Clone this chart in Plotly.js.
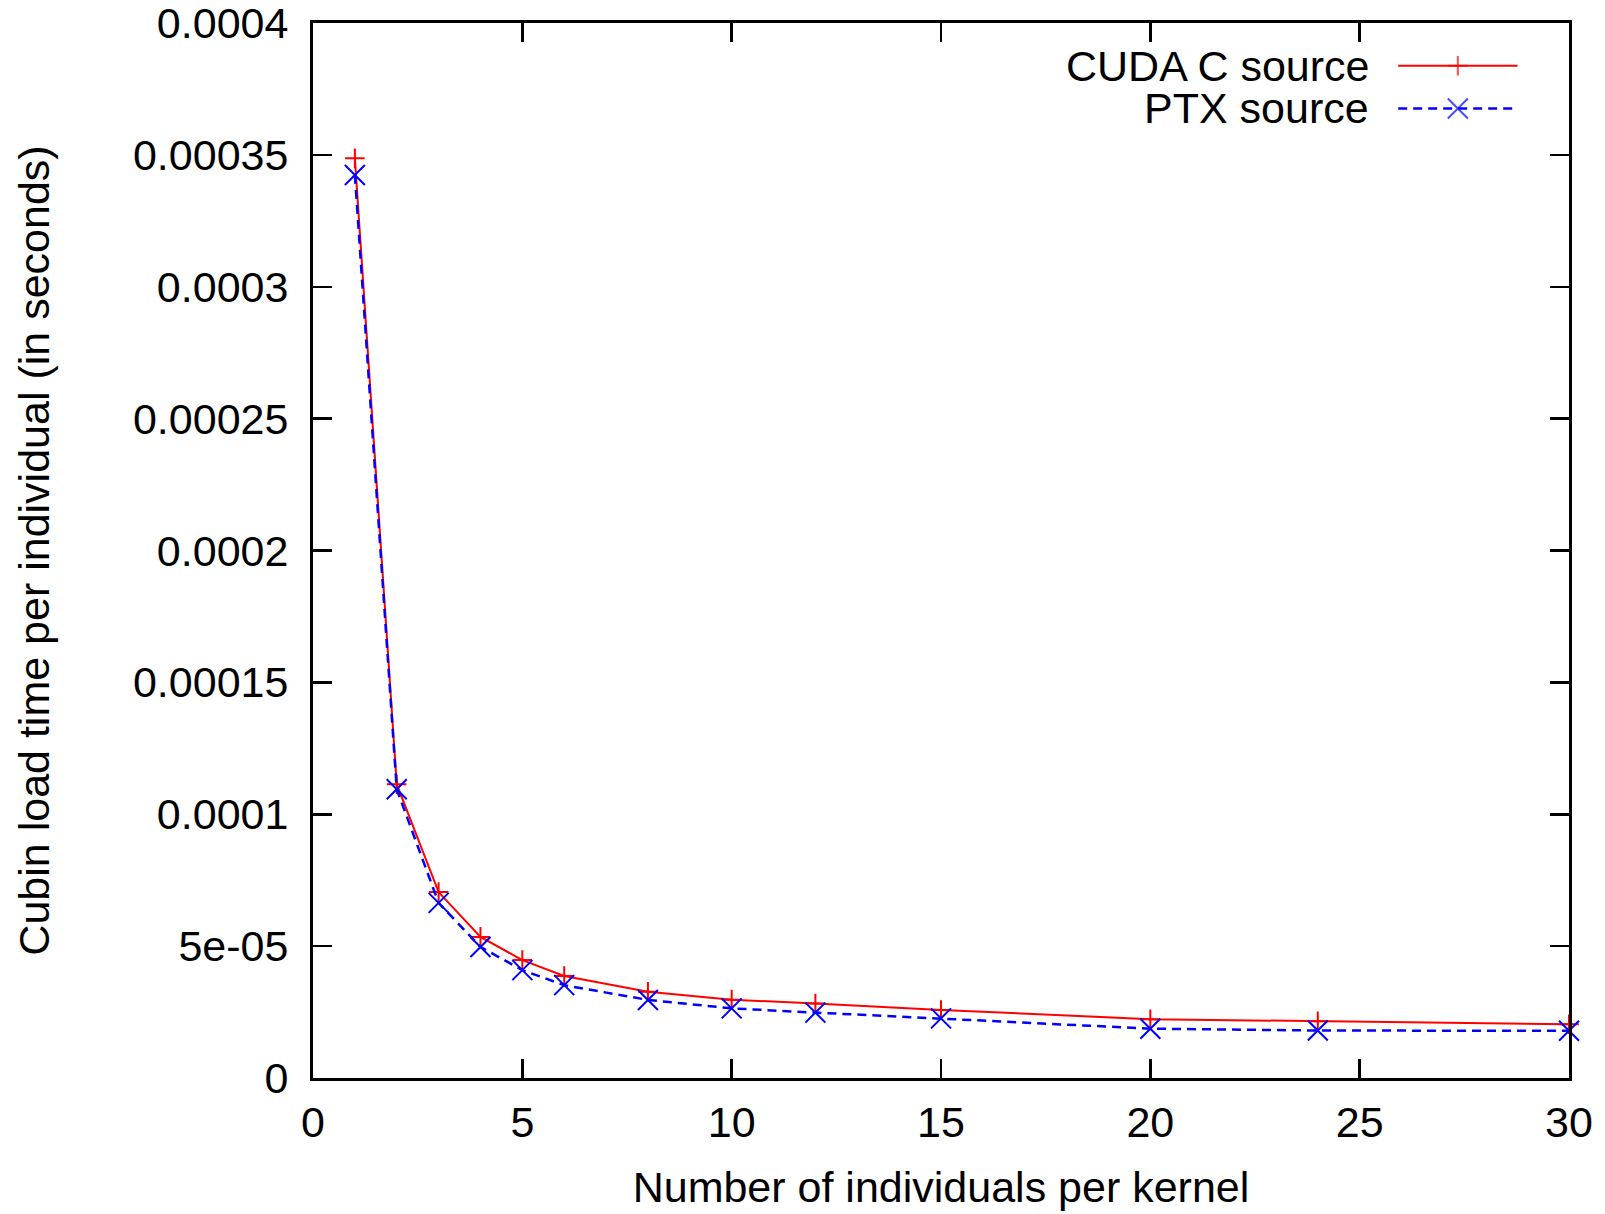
<!DOCTYPE html>
<html>
<head>
<meta charset="utf-8">
<script src="https://cdn.plot.ly/plotly-3.0.1.min.js"></script>
<style>html,body{margin:0;padding:0;background:#fff}#chart{width:1605px;height:1214px}</style>
</head>
<body>
<div id="chart"></div>
<script>
const individuals = [1, 2, 3, 4, 5, 6, 8, 10, 12, 15, 20, 24, 30];
const cudaC = [3.487e-4, 1.114e-4, 7.05e-5, 5.35e-5, 4.47e-5, 3.87e-5, 3.27e-5, 2.97e-5, 2.82e-5, 2.58e-5, 2.23e-5, 2.15e-5, 2.04e-5];
const ptx   = [3.424e-4, 1.095e-4, 6.64e-5, 4.97e-5, 4.09e-5, 3.52e-5, 2.96e-5, 2.64e-5, 2.48e-5, 2.26e-5, 1.87e-5, 1.80e-5, 1.79e-5];
const seriesNames = ["CUDA C source", "PTX source"];
const xTickVals = [0, 5, 10, 15, 20, 25, 30];
const yTickVals = [0, 0.00005, 0.0001, 0.00015, 0.0002, 0.00025, 0.0003, 0.00035, 0.0004];
const yTickText = ["0", "5e-05", "0.0001", "0.00015", "0.0002", "0.00025", "0.0003", "0.00035", "0.0004"];

const FONT = "Liberation Sans, Arial, sans-serif";
const RED = "#ff0000", BLUE = "#0000ff";

const redStyle = {line: {color: RED, width: 2}, marker: {symbol: "cross-thin-open", size: 14, color: RED, line: {color: RED, width: 2}}};
const blueStyle = {line: {color: BLUE, width: 2.5, dash: "9px,6px"}, marker: {symbol: "x-thin-open", size: 20, color: BLUE, line: {color: BLUE, width: 2}}};

const traces = [
  Object.assign({x: individuals, y: cudaC, name: seriesNames[0], mode: "lines+markers", cliponaxis: false, showlegend: false}, redStyle),
  Object.assign({x: individuals, y: ptx, name: seriesNames[1], mode: "lines+markers", cliponaxis: false, showlegend: false}, blueStyle),
  // legend samples on an overlay axis in unit coordinates
  Object.assign({x: [0.864, 0.9115, 0.959], y: [0.9595, 0.9595, 0.9595], xaxis: "x2", yaxis: "y2", mode: "lines+markers", showlegend: false, hoverinfo: "skip"},
    {line: redStyle.line, marker: Object.assign({}, redStyle.marker, {size: [0, 14, 0]})}),
  Object.assign({x: [0.864, 0.9115, 0.959], y: [0.919, 0.919, 0.919], xaxis: "x2", yaxis: "y2", mode: "lines+markers", showlegend: false, hoverinfo: "skip"},
    {line: blueStyle.line, marker: Object.assign({}, blueStyle.marker, {size: [0, 20, 0]})})
];

const axisCommon = {
  showgrid: false, zeroline: false, showline: true, linecolor: "#000", linewidth: 3,
  mirror: "allticks", ticks: "inside", ticklen: 19, tickwidth: 2.5, tickcolor: "#000",
  ticklabeloverflow: "allow",
  tickfont: {family: FONT, size: 43, color: "#000"}
};

const layout = {
  width: 1605, height: 1214,
  margin: {l: 312.5, r: 35.5, t: 22.5, b: 135.5},
  paper_bgcolor: "#fff", plot_bgcolor: "#fff",
  font: {family: FONT, color: "#000"},
  showlegend: false,
  xaxis: Object.assign({}, axisCommon, {
    range: [0, 30.000001], tickvals: xTickVals, ticktext: xTickVals.map(String), ticklabelstandoff: 4,
    title: {text: "Number of individuals per kernel", font: {family: FONT, size: 43, color: "#000"}, standoff: 28}
  }),
  yaxis: Object.assign({}, axisCommon, {
    range: [0, 0.0004000001], tickvals: yTickVals, ticktext: yTickText, ticklabelstandoff: 13,
    title: {text: "Cubin load time per individual (in seconds)", font: {family: FONT, size: 43, color: "#000"}, standoff: 70}
  }),
  xaxis2: {range: [0, 1], visible: false, overlaying: "x", fixedrange: true},
  yaxis2: {range: [0, 1], visible: false, overlaying: "y", fixedrange: true},
  annotations: [
    {xref: "x2", yref: "y2", x: 0.842, y: 0.9595, xanchor: "right", yanchor: "middle", text: seriesNames[0], showarrow: false, font: {family: FONT, size: 43, color: "#000"}},
    {xref: "x2", yref: "y2", x: 0.842, y: 0.919, xanchor: "right", yanchor: "middle", text: seriesNames[1], showarrow: false, font: {family: FONT, size: 43, color: "#000"}}
  ]
};

Plotly.newPlot("chart", traces, layout, {displayModeBar: false, staticPlot: true});
</script>
</body>
</html>
